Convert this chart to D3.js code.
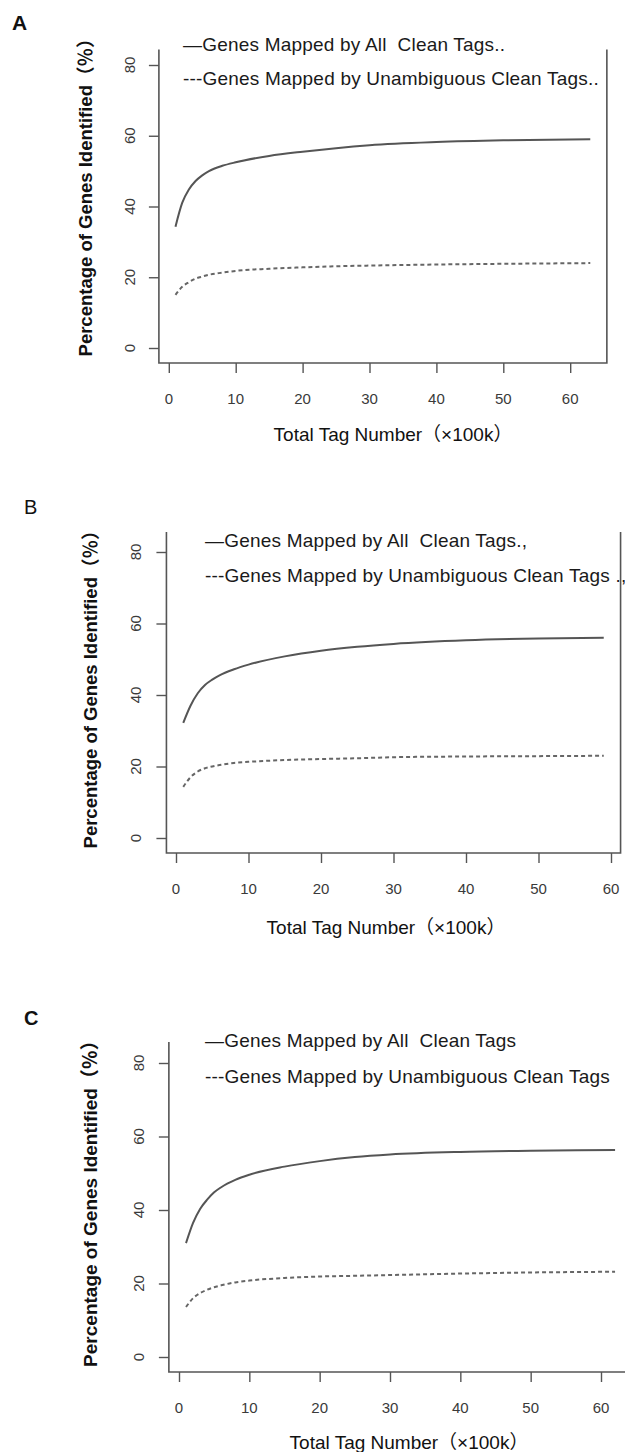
<!DOCTYPE html>
<html>
<head>
<meta charset="utf-8">
<script src="https://cdn.jsdelivr.net/npm/d3@7"></script>
<style>
  html, body { margin: 0; padding: 0; background: #fff; }
  svg { display: block; }
  text { font-family: "Liberation Sans", Arial, "Noto Sans CJK SC", sans-serif; white-space: pre; }
</style>
</head>
<body>
<svg id="chart" width="625" height="1452"></svg>
<script>
// ---- data ----
const panelLetters = ["A", "B", "C"];
const xTicks = [0, 10, 20, 30, 40, 50, 60];
const yTicks = [0, 20, 40, 60, 80];
const xTitle = "Total Tag Number（×100k）";
const yTitle = "Percentage of Genes Identified（％）";

const xA = [1, 2, 3, 4, 5, 6, 8, 10, 15, 20, 25, 30, 40, 50, 63];
const allA = [34.3, 41, 44.8, 47.2, 48.8, 50, 51.5, 52.5, 54.3, 55.5, 56.5, 57.3, 58.2, 58.7, 59];
const uniqA = [15, 17.3, 18.6, 19.6, 20.2, 20.7, 21.3, 21.8, 22.4, 22.8, 23.1, 23.3, 23.6, 23.8, 24];

const xB = [1, 2, 3, 4, 5, 6, 8, 10, 15, 20, 25, 30, 40, 50, 59];
const allB = [32.2, 37, 40.5, 42.8, 44.3, 45.5, 47.2, 48.5, 50.8, 52.4, 53.5, 54.3, 55.3, 55.8, 56];
const uniqB = [14.3, 17, 18.6, 19.5, 20, 20.4, 21, 21.3, 21.8, 22.1, 22.3, 22.6, 22.8, 22.9, 23];

const xC = [1, 2, 3, 4, 5, 6, 8, 10, 15, 20, 25, 30, 40, 50, 62];
const allC = [31, 36.5, 40.3, 42.8, 44.8, 46.2, 48.2, 49.6, 51.8, 53.3, 54.4, 55.1, 55.8, 56.1, 56.3];
const uniqC = [13.6, 16, 17.4, 18.3, 19, 19.5, 20.3, 20.8, 21.5, 21.9, 22.1, 22.3, 22.7, 23, 23.2];

const legendA = ["—Genes Mapped by All  Clean Tags..", "---Genes Mapped by Unambiguous Clean Tags.."];
const legendB = ["—Genes Mapped by All  Clean Tags.,", "---Genes Mapped by Unambiguous Clean Tags .,"];
const legendC = ["—Genes Mapped by All  Clean Tags", "---Genes Mapped by Unambiguous Clean Tags"];

// ---- layout (pixel geometry of each sub-figure) ----
const layouts = [
  { x: xA, all: allA, uniq: uniqA, legend: legendA,
    xr: [168.8, 570.2], yr: [348, 65], top: 49.5, bottom: 363,
    letter: { x: 12, y: 30, w: "bold", s: 21 },
    ytl: 129.5, ytitle: { x: 92, y: 193, s: 18.5 }, xtitle: { x: 393, y: 441 },
    leg: { x: 183, y1: 51, y2: 85 } },
  { x: xB, all: allB, uniq: uniqB, legend: legendB,
    xr: [176, 611], yr: [838, 552], top: 532, bottom: 853,
    letter: { x: 24, y: 514, w: "normal", s: 20 },
    ytl: 135, ytitle: { x: 97, y: 685, s: 18.5 }, xtitle: { x: 386, y: 934 },
    leg: { x: 205, y1: 547, y2: 582 } },
  { x: xC, all: allC, uniq: uniqC, legend: legendC,
    xr: [179, 601], yr: [1357, 1063], top: 1042, bottom: 1372,
    letter: { x: 24, y: 1025, w: "bold", s: 20 },
    ytl: 138, ytitle: { x: 97, y: 1199, s: 19 }, xtitle: { x: 409, y: 1449 },
    leg: { x: 205, y1: 1047, y2: 1083 } }
];

const svg = d3.select("#chart");
const axisColor = "#555";

layouts.forEach((L, i) => {
  const g = svg.append("g");
  const x = d3.scaleLinear().domain([0, 60]).range(L.xr);
  const y = d3.scaleLinear().domain([0, 80]).range(L.yr);
  const xmin = d3.min(L.x), xmax = d3.max(L.x);
  const pad = (xmax - xmin) * 0.04;
  const left = x(xmin - pad), right = x(xmax + pad);

  // frame: left, bottom, right
  g.append("path")
    .attr("d", `M${left},${L.top}V${L.bottom}H${right}V${L.top}`)
    .attr("fill", "none").attr("stroke", axisColor).attr("stroke-width", 1.6);

  // y axis ticks + labels
  const yAxis = d3.axisLeft(y).tickValues(yTicks).tickSize(10).tickPadding(0).tickFormat(d3.format("d"));
  const ya = g.append("g").attr("transform", `translate(${left},0)`).call(yAxis);
  ya.select(".domain").remove();
  ya.selectAll(".tick line").attr("stroke", axisColor).attr("stroke-width", 1.4);
  ya.selectAll(".tick text").remove();
  g.selectAll(".ylab").data(yTicks).join("text")
    .attr("transform", d => `translate(${L.ytl},${y(d)}) rotate(-90)`)
    .attr("text-anchor", "middle").attr("dominant-baseline", "central")
    .attr("font-size", 15).attr("fill", "#3a3a3a").text(d => d);

  // x axis ticks + labels
  const xAxis = d3.axisBottom(x).tickValues(xTicks).tickSize(10).tickPadding(0).tickFormat(d3.format("d"));
  const xa = g.append("g").attr("transform", `translate(0,${L.bottom})`).call(xAxis);
  xa.select(".domain").remove();
  xa.selectAll(".tick line").attr("stroke", axisColor).attr("stroke-width", 1.4);
  xa.selectAll(".tick text").remove();
  g.selectAll(".xlab").data(xTicks).join("text")
    .attr("x", d => x(d)).attr("y", L.bottom + 35)
    .attr("text-anchor", "middle").attr("dominant-baseline", "central")
    .attr("font-size", 15).attr("fill", "#3a3a3a").text(d => d);

  // titles
  g.append("text")
    .attr("transform", `translate(${L.ytitle.x},${L.ytitle.y}) rotate(-90)`)
    .attr("text-anchor", "middle").attr("font-weight", "bold")
    .attr("font-size", L.ytitle.s).attr("fill", "#111").text(yTitle);
  g.append("text")
    .attr("x", L.xtitle.x).attr("y", L.xtitle.y)
    .attr("text-anchor", "middle").attr("font-size", 19).attr("fill", "#111").text(xTitle);

  // panel letter
  g.append("text").attr("x", L.letter.x).attr("y", L.letter.y)
    .attr("font-size", L.letter.s).attr("font-weight", L.letter.w).attr("fill", "#111")
    .text(panelLetters[i]);

  // curves
  const line = d3.line().x(d => x(d[0])).y(d => y(d[1])).curve(d3.curveMonotoneX);
  const allPts = L.x.map((v, k) => [v, L.all[k]]);
  const uniqPts = L.x.map((v, k) => [v, L.uniq[k]]);
  g.append("path").attr("d", line(allPts)).attr("fill", "none")
    .attr("stroke", "#555").attr("stroke-width", 2);
  g.append("path").attr("d", line(uniqPts)).attr("fill", "none")
    .attr("stroke", "#666").attr("stroke-width", 2).attr("stroke-dasharray", "4,3");

  // legend text
  g.append("text").attr("x", L.leg.x).attr("y", L.leg.y1)
    .attr("font-size", 19).attr("letter-spacing", 0.2).attr("fill", "#1a1a1a").text(L.legend[0]);
  g.append("text").attr("x", L.leg.x).attr("y", L.leg.y2)
    .attr("font-size", 19).attr("letter-spacing", 0.2).attr("fill", "#1a1a1a").text(L.legend[1]);
});
</script>
</body>
</html>
